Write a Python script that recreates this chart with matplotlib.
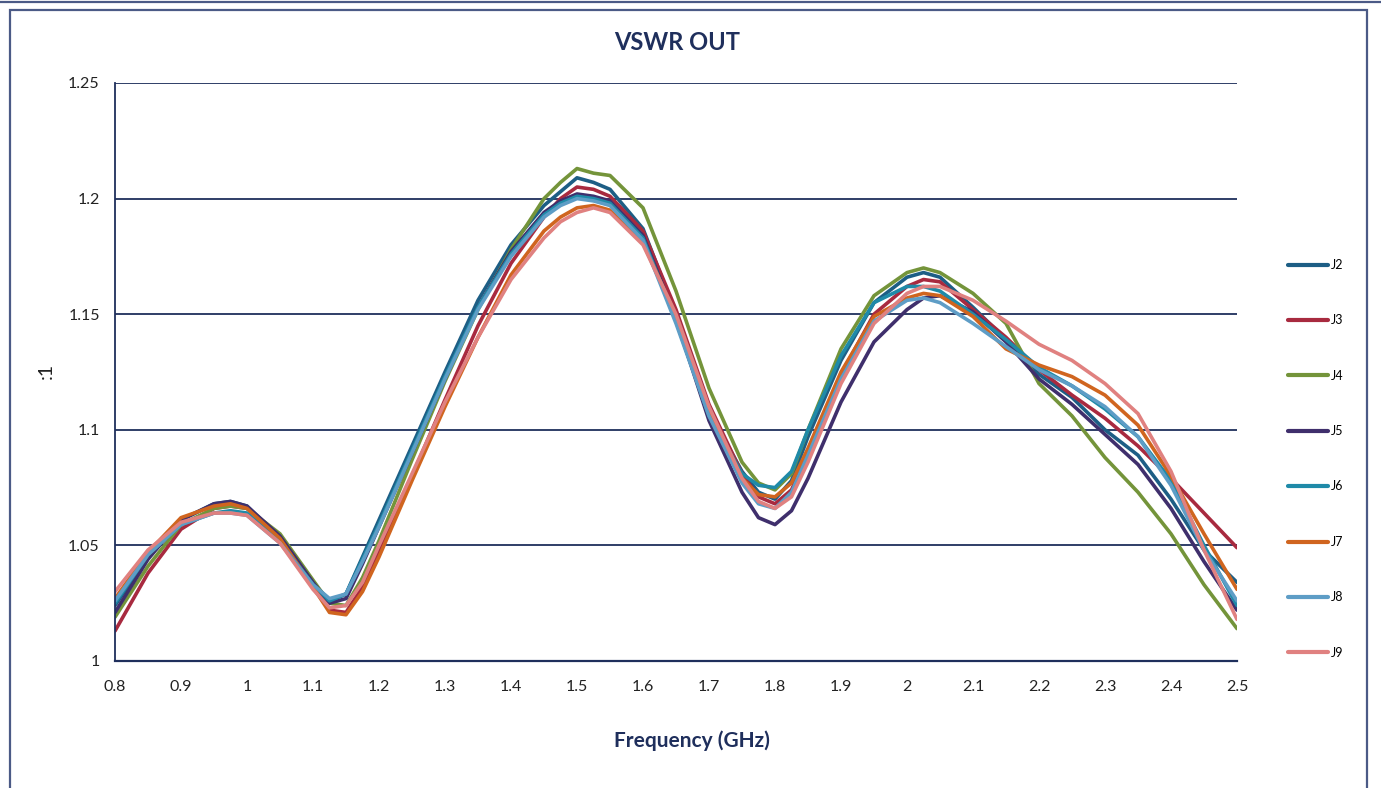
import matplotlib
matplotlib.use("Agg")
import matplotlib.pyplot as plt
from matplotlib.patches import Rectangle
from matplotlib.lines import Line2D

plt.rcParams['font.family'] = ['Lato', 'DejaVu Sans']

# frequencies (GHz)
freq = [0.80, 0.85, 0.90, 0.95, 0.975, 1.00, 1.05, 1.10, 1.125, 1.15, 1.175, 1.20,
        1.25, 1.30, 1.35, 1.40, 1.45, 1.475, 1.50, 1.525, 1.55, 1.60, 1.65, 1.70,
        1.75, 1.775, 1.80, 1.825, 1.85, 1.90, 1.95, 2.00, 2.025, 2.05, 2.10, 2.15,
        2.20, 2.25, 2.30, 2.35, 2.40, 2.45, 2.50]

j2 = [1.024, 1.045, 1.061, 1.068, 1.069, 1.067, 1.053, 1.034, 1.026, 1.029, 1.045, 1.061,
      1.093, 1.125, 1.156, 1.180, 1.197, 1.203, 1.209, 1.207, 1.204, 1.187, 1.150, 1.108,
      1.082, 1.073, 1.070, 1.078, 1.097, 1.130, 1.155, 1.166, 1.168, 1.166, 1.153, 1.139,
      1.124, 1.114, 1.100, 1.089, 1.070, 1.048, 1.034]
j3 = [1.013, 1.038, 1.057, 1.066, 1.067, 1.066, 1.054, 1.033, 1.022, 1.021, 1.032, 1.047,
      1.080, 1.113, 1.145, 1.172, 1.192, 1.200, 1.205, 1.204, 1.201, 1.186, 1.152, 1.111,
      1.081, 1.071, 1.068, 1.074, 1.090, 1.124, 1.150, 1.162, 1.165, 1.164, 1.152, 1.140,
      1.126, 1.115, 1.105, 1.093, 1.079, 1.064, 1.049]
j4 = [1.019, 1.041, 1.059, 1.066, 1.067, 1.066, 1.055, 1.035, 1.025, 1.024, 1.036, 1.052,
      1.087, 1.121, 1.152, 1.178, 1.200, 1.207, 1.213, 1.211, 1.210, 1.196, 1.160, 1.118,
      1.086, 1.077, 1.074, 1.081, 1.100, 1.135, 1.158, 1.168, 1.170, 1.168, 1.159, 1.146,
      1.120, 1.106, 1.088, 1.073, 1.055, 1.033, 1.014]
j5 = [1.021, 1.044, 1.061, 1.068, 1.069, 1.067, 1.054, 1.034, 1.025, 1.027, 1.042, 1.058,
      1.090, 1.122, 1.153, 1.177, 1.194, 1.199, 1.202, 1.201, 1.199, 1.184, 1.148, 1.104,
      1.073, 1.062, 1.059, 1.065, 1.079, 1.112, 1.138, 1.152, 1.157, 1.158, 1.151, 1.138,
      1.122, 1.111, 1.098, 1.085, 1.066, 1.043, 1.022]
j6 = [1.025, 1.046, 1.059, 1.064, 1.065, 1.064, 1.052, 1.033, 1.026, 1.029, 1.044, 1.059,
      1.091, 1.123, 1.153, 1.176, 1.193, 1.198, 1.201, 1.200, 1.198, 1.183, 1.147, 1.106,
      1.081, 1.076, 1.075, 1.082, 1.100, 1.132, 1.155, 1.162, 1.162, 1.160, 1.150, 1.139,
      1.127, 1.119, 1.109, 1.097, 1.078, 1.050, 1.024]
j7 = [1.027, 1.047, 1.062, 1.067, 1.068, 1.066, 1.053, 1.032, 1.021, 1.020, 1.030, 1.045,
      1.078, 1.110, 1.140, 1.167, 1.186, 1.192, 1.196, 1.197, 1.195, 1.181, 1.149, 1.108,
      1.079, 1.072, 1.071, 1.077, 1.092, 1.125, 1.149, 1.157, 1.159, 1.158, 1.149, 1.135,
      1.128, 1.123, 1.115, 1.102, 1.080, 1.055, 1.031]
j8 = [1.026, 1.046, 1.059, 1.064, 1.064, 1.063, 1.051, 1.033, 1.027, 1.029, 1.043, 1.058,
      1.090, 1.122, 1.152, 1.175, 1.192, 1.197, 1.200, 1.199, 1.197, 1.182, 1.146, 1.106,
      1.077, 1.068, 1.066, 1.073, 1.089, 1.122, 1.147, 1.156, 1.157, 1.155, 1.146, 1.136,
      1.126, 1.119, 1.110, 1.097, 1.076, 1.048, 1.026]
j9 = [1.030, 1.048, 1.060, 1.064, 1.064, 1.063, 1.051, 1.031, 1.023, 1.024, 1.034, 1.050,
      1.081, 1.112, 1.140, 1.165, 1.183, 1.190, 1.194, 1.196, 1.194, 1.180, 1.150, 1.110,
      1.079, 1.069, 1.066, 1.071, 1.086, 1.120, 1.146, 1.159, 1.162, 1.162, 1.156, 1.147,
      1.137, 1.130, 1.120, 1.107, 1.082, 1.048, 1.018]

labels = ["J2", "J3", "J4", "J5", "J6", "J7", "J8", "J9"]
series = [j2, j3, j4, j5, j6, j7, j8, j9]
colors = ["#1d5e85", "#a82a3f", "#74943a", "#3f2f6c", "#1f8aa8", "#d0651f", "#5e9dc6", "#e08180"]

x_ticks = [0.8, 0.9, 1.0, 1.1, 1.2, 1.3, 1.4, 1.5, 1.6, 1.7, 1.8, 1.9, 2.0, 2.1, 2.2, 2.3, 2.4, 2.5]
x_ticklabels = ["0.8", "0.9", "1", "1.1", "1.2", "1.3", "1.4", "1.5", "1.6", "1.7", "1.8",
                "1.9", "2", "2.1", "2.2", "2.3", "2.4", "2.5"]
y_ticks = [1.0, 1.05, 1.1, 1.15, 1.2, 1.25]
y_ticklabels = ["1", "1.05", "1.1", "1.15", "1.2", "1.25"]

navy = "#1f2f5c"

fig = plt.figure(figsize=(13.81, 7.88), dpi=100)
ax = fig.add_axes([115 / 1381, 127 / 788, 1122 / 1381, 578 / 788])

for y in y_ticks[1:]:
    ax.axhline(y, color=navy, lw=1.3, zorder=1)

handles = []
for lab, vals, c in zip(labels, series, colors):
    h, = ax.plot(freq, vals, color=c, lw=2.6, label=lab, zorder=2, solid_capstyle="round")
    handles.append(h)

ax.set_xlim(0.8, 2.5)
ax.set_ylim(1.0, 1.25)
ax.set_xticks(x_ticks)
ax.set_xticklabels(x_ticklabels)
ax.set_yticks(y_ticks)
ax.set_yticklabels(y_ticklabels)
ax.tick_params(length=0, labelsize=11.5, colors="#222222")
ax.tick_params(axis="x", pad=14)
ax.tick_params(axis="y", pad=11)

for s in ["top", "right"]:
    ax.spines[s].set_visible(False)
ax.spines["left"].set_color(navy)
ax.spines["bottom"].set_color(navy)
ax.spines["left"].set_linewidth(1.3)
ax.spines["bottom"].set_linewidth(1.6)

fig.text(677 / 1381, 1 - 43 / 788, "VSWR OUT", ha="center", va="center",
         fontsize=17, fontweight="bold", color=navy)
fig.text(692 / 1381, 1 - 741 / 788, "Frequency (GHz)", ha="center", va="center",
         fontsize=15, fontweight="bold", color=navy)
fig.text(46 / 1381, 1 - 371 / 788, ":1", ha="center", va="center", rotation=90,
         fontsize=14, color="#222222")

leg = fig.legend(handles=handles, labels=labels, loc="upper left",
                 bbox_to_anchor=(1283 / 1381, 1 - 254 / 788), frameon=False,
                 fontsize=9, handlelength=3.2, handletextpad=0.2, labelspacing=3.47,
                 borderaxespad=0)
for line in leg.get_lines():
    line.set_linewidth(3)

# outer chart frame
fig.add_artist(Rectangle((10 / 1381, -0.02), 1357 / 1381, 1 - 10 / 788 + 0.02,
                         transform=fig.transFigure, fill=False, edgecolor="#4b5a86", lw=1.6))
fig.add_artist(Line2D([0, 1], [1 - 2 / 788, 1 - 2 / 788], transform=fig.transFigure,
                      color="#4b5a86", lw=1.6))

fig.savefig("out.png", dpi=100, facecolor="white")
